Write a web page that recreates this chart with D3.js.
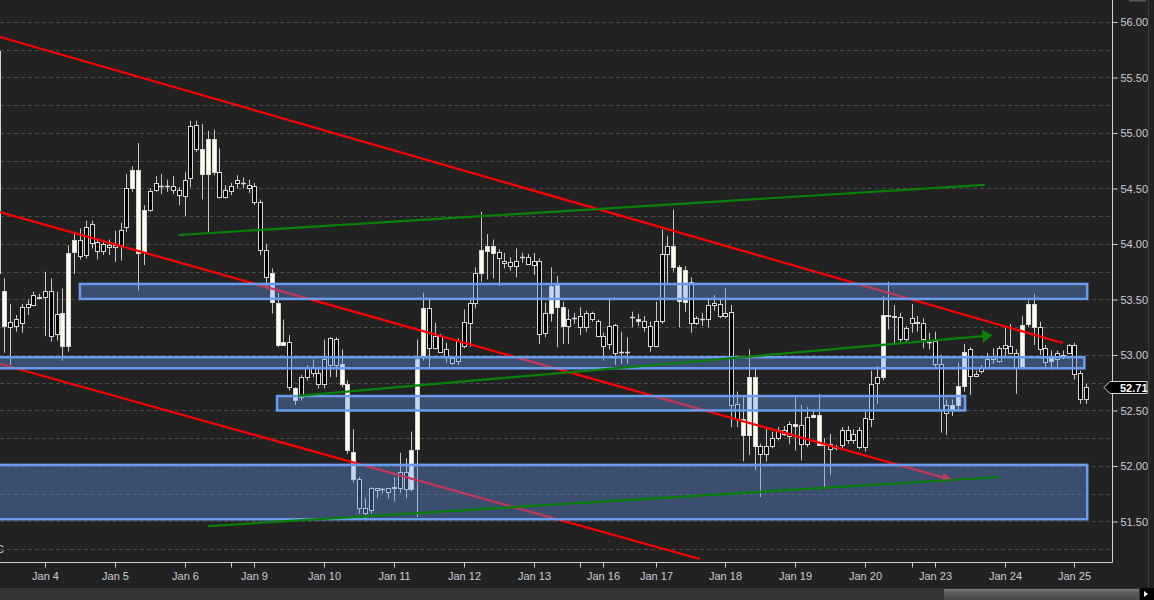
<!DOCTYPE html>
<html><head><meta charset="utf-8">
<script src="https://cdn.jsdelivr.net/npm/d3@7"></script>
<style>html,body{margin:0;padding:0;background:#222;overflow:hidden}</style>
</head><body><svg id="chart" width="1154" height="600"></svg>
<script>
// ---- DATA (2-hour candles, index -1 .. 186) ----
const firstIndex = -1;
const opens = [
55.74,53.58,53.25,53.26,53.29,53.43,53.45,53.52,53.52,53.17,
53.19,53.38,53.92,54.04,53.89,53.90,54.01,53.94,53.94,53.97,
53.97,53.99,54.15,54.67,54.67,54.31,54.31,54.49,54.52,54.52,
54.49,54.44,54.43,54.59,54.86,54.86,54.95,54.95,54.42,54.42,
54.48,54.55,54.55,54.50,54.38,53.95,53.70,53.74,53.47,53.12,
52.71,52.70,52.62,52.80,52.84,52.74,52.74,52.91,52.91,52.92,
52.74,52.13,51.62,51.58,51.60,51.78,51.79,51.77,51.80,51.80,
51.79,52.14,52.96,53.42,53.06,53.06,53.03,52.98,52.93,52.95,
53.08,53.29,53.47,53.95,53.98,53.98,53.87,53.83,53.80,53.80,
53.88,53.82,53.81,53.19,53.20,53.62,53.63,53.43,53.26,53.33,
53.25,53.25,53.32,53.17,53.08,53.10,53.02,53.03,53.03,53.34,
53.32,53.25,53.08,53.08,53.31,53.91,53.98,53.79,53.77,53.29,
53.29,53.32,53.32,53.45,53.35,53.35,52.55,52.42,52.42,52.80,
52.80,52.11,52.11,52.18,52.25,52.29,52.27,52.38,52.20,52.20,
52.46,52.46,52.20,52.15,52.16,52.19,52.23,52.23,52.17,52.17,
52.42,52.75,53.36,53.36,53.35,53.14,53.14,53.29,53.30,53.14,
53.12,52.92,52.50,52.48,52.55,52.72,53.03,52.81,52.81,52.86,
52.89,52.96,52.95,53.06,53.02,52.89,53.27,53.46,53.46,53.05,
52.94,52.97,52.96,52.99,53.02,52.83,52.60,52.60];
const highs = [
55.80,53.69,53.46,53.36,53.46,53.50,53.57,53.55,53.75,53.69,
53.57,53.60,53.99,54.11,54.14,54.21,54.21,54.05,54.02,54.04,
54.12,54.19,54.63,54.70,54.91,54.35,54.50,54.61,54.63,54.58,
54.61,54.51,54.65,55.11,55.11,55.08,55.02,55.03,54.86,54.53,
54.55,54.62,54.60,54.58,54.55,54.40,54.00,53.78,53.56,53.32,
53.18,52.71,52.82,52.91,52.96,52.88,53.14,53.16,53.16,53.05,
52.77,52.33,51.90,51.71,51.81,51.80,51.80,51.80,51.90,52.12,
52.07,52.31,53.14,53.56,53.50,53.29,53.19,53.11,52.99,53.15,
53.41,53.51,53.79,54.29,54.09,54.04,53.95,53.92,53.88,53.96,
53.92,53.91,53.92,53.87,53.47,53.79,53.71,53.48,53.41,53.38,
53.43,53.40,53.39,53.32,53.20,53.50,53.28,53.21,53.16,53.39,
53.37,53.35,53.30,53.48,54.13,54.07,54.31,53.81,53.80,53.70,
53.35,53.38,53.50,53.54,53.50,53.60,53.45,52.67,52.62,53.05,
52.88,52.20,52.35,52.31,52.35,52.36,52.40,52.62,52.55,52.53,
52.50,52.65,52.25,52.29,52.19,52.35,52.36,52.33,52.35,52.49,
52.86,52.90,53.53,53.66,53.45,53.38,53.26,53.46,53.35,53.33,
53.20,53.21,53.00,52.60,52.60,52.93,53.10,53.07,52.86,52.91,
53.02,53.06,53.08,53.25,53.28,53.05,53.35,53.49,53.55,53.30,
53.09,53.04,53.04,53.04,53.10,53.11,52.86,52.74];
const lows = [
53.70,53.02,52.91,53.21,53.20,53.36,53.44,53.50,53.17,53.12,
53.13,52.95,53.03,53.73,53.86,53.87,53.96,53.86,53.90,53.90,
53.84,53.85,54.11,54.47,53.58,53.81,54.29,54.47,54.45,54.47,
54.45,54.35,54.25,54.51,54.83,54.40,54.11,54.62,54.41,54.41,
54.44,54.50,54.50,54.46,54.35,53.90,53.60,53.375,53.07,53.08,
52.68,52.55,52.59,52.77,52.80,52.70,52.70,52.80,52.80,52.71,
52.11,51.85,51.57,51.51,51.57,51.71,51.75,51.71,51.68,51.76,
51.71,51.77,51.54,52.95,52.89,53.05,53.02,52.93,52.91,52.91,
53.06,53.07,53.42,53.66,53.68,53.69,53.62,53.78,53.76,53.70,
53.83,53.81,53.72,53.10,53.16,53.30,53.07,53.10,53.10,53.28,
53.18,53.21,53.30,53.16,52.95,53.05,52.91,52.92,52.92,53.25,
53.26,53.21,53.03,53.07,53.28,53.65,53.75,53.25,53.39,53.20,
53.27,53.26,53.25,53.40,53.33,53.33,52.35,52.35,52.04,52.10,
51.96,51.72,52.04,52.16,52.23,52.27,52.20,52.14,52.05,52.17,
52.43,52.18,51.80,51.92,52.14,52.15,52.20,52.20,52.15,52.13,
52.35,52.56,52.77,53.23,53.10,53.12,53.12,53.20,53.21,53.06,
53.05,52.89,52.30,52.28,52.45,52.50,52.67,52.64,52.80,52.83,
52.88,52.92,52.93,52.98,53.01,52.65,52.88,53.25,53.09,53.00,
52.87,52.87,52.87,52.96,53.01,52.78,52.56,52.56];
const closes = [
53.74,53.26,53.30,53.32,53.43,53.46,53.54,53.51,53.58,53.58,
53.37,53.08,53.08,53.93,54.04,54.15,54.18,54.02,54.00,53.99,
53.99,54.13,54.50,54.50,53.92,53.94,54.48,54.55,54.52,54.52,
54.52,54.49,54.58,55.06,55.07,54.63,54.63,54.65,54.65,54.49,
54.52,54.58,54.55,54.53,54.52,54.38,53.95,53.475,53.09,53.09,
53.12,52.59,52.80,52.88,52.89,52.84,52.96,53.15,53.14,52.74,
52.14,51.88,51.88,51.62,51.80,51.80,51.79,51.80,51.81,51.95,
51.95,51.79,52.15,52.98,53.42,53.17,53.17,53.05,52.97,53.13,
53.30,53.47,53.74,53.74,53.94,53.92,53.93,53.85,53.84,53.85,
53.88,53.88,53.85,53.85,53.38,53.38,53.43,53.26,53.32,53.33,
53.35,53.38,53.38,53.31,53.17,53.26,53.27,53.03,53.03,53.34,
53.31,53.31,53.26,53.31,53.91,53.98,53.79,53.49,53.48,53.66,
53.33,53.32,53.45,53.47,53.46,53.38,53.39,52.56,52.28,52.28,
52.18,52.18,52.18,52.25,52.32,52.32,52.38,52.36,52.37,52.44,
52.44,52.19,52.19,52.20,52.17,52.32,52.32,52.29,52.32,52.43,
52.74,52.80,52.80,53.35,53.34,53.34,53.24,53.33,53.29,53.29,
53.12,53.13,52.92,52.55,52.50,52.55,52.72,53.05,52.83,52.89,
52.96,52.98,53.06,53.09,53.08,53.02,52.89,53.28,53.25,53.25,
53.06,52.95,53.02,53.00,53.09,53.09,52.84,52.71];

const tickIndex  = [7,19,31,39,43,55,67,79,91,99,103,112,124,136,148,156,160,172,184];
const tickLabels = ["Jan 4","Jan 5","Jan 6","","Jan 9","Jan 10","Jan 11","Jan 12","Jan 13","",
                    "Jan 16","Jan 17","Jan 18","Jan 19","Jan 20","","Jan 23","Jan 24","Jan 25"];
const priceTicks = [51.5,52.0,52.5,53.0,53.5,54.0,54.5,55.0,55.5,56.0];
const gridPrices = [51.25,51.5,51.75,52.0,52.25,52.5,52.75,53.0,53.25,53.5,53.75,54.0,54.25,54.5,54.75,55.0,55.25,55.5,55.75,56.0];
const lastPrice = 52.71;

// zones (index from/to, price low/high)
const zoneFrom = [13.0, -3, 46.9, -3];
const zoneTo   = [186.2, 185.7, 165.2, 186.2];
const zoneLow  = [53.505, 52.88, 52.50, 51.52];
const zoneHigh = [53.64, 52.98, 52.63, 52.01];

// trend lines (index, price) start/end
const redFrom  = [[-0.74,55.865],[-0.74,54.288],[-0.74,52.919]];
const redTo    = [[182.0,53.108],[162.95,51.874],[119.6,51.162]];
const redArrow = [false,true,false];
const greenFrom  = [[30.0,54.081],[50.5,52.631],[35.0,51.459]];
const greenTo    = [[168.6,54.532],[169.7,53.176],[171.2,51.901]];
const greenArrow = [false,true,false];

// ---- CHART ----
const W = 1154, H = 600, plotW = 1112, plotH = 562;
const svg = d3.select("#chart");
const x = d3.scaleLinear().domain([-0.74, 190.46]).range([0, plotW]);
const y = d3.scaleLinear().domain([51.135, 56.198]).range([plotH, 0]);

svg.append("rect").attr("width", W).attr("height", H).attr("fill", "#222222");

const defs = svg.append("defs");
defs.append("clipPath").attr("id","plotclip").append("rect").attr("x",0).attr("y",0).attr("width",plotW).attr("height",plotH);
defs.append("marker").attr("id","arrRed").attr("viewBox","0 0 11 9").attr("refX",10).attr("refY",4.5)
  .attr("markerWidth",11).attr("markerHeight",9).attr("markerUnits","userSpaceOnUse").attr("orient","auto")
  .append("path").attr("d","M0,0 L11,4.5 L0,9 z").attr("fill","#ff0000");
defs.append("marker").attr("id","arrGreen").attr("viewBox","0 0 10 14").attr("refX",9).attr("refY",7)
  .attr("markerWidth",10).attr("markerHeight",14).attr("markerUnits","userSpaceOnUse").attr("orient","auto")
  .append("path").attr("d","M0,0 L10,7 L0,14 z").attr("fill","#0a800a");

const plot = svg.append("g").attr("clip-path","url(#plotclip)");

// grid
plot.append("g").selectAll("line").data(gridPrices).join("line")
  .attr("x1",0).attr("x2",plotW)
  .attr("y1",d=>Math.round(y(d))+0.5).attr("y2",d=>Math.round(y(d))+0.5)
  .attr("stroke","#4a4a4a").attr("stroke-width",1).attr("stroke-dasharray","4,3");

// candles
const candles = opens.map((o,k)=>({i:firstIndex+k,o,h:highs[k],l:lows[k],c:closes[k]}));
const cg = plot.append("g");
candles.forEach(d=>{
  const cx = Math.round(x(d.i));
  cg.append("line").attr("x1",cx+0.5).attr("x2",cx+0.5)
    .attr("y1",y(d.h)).attr("y2",y(d.l)).attr("stroke","#c8c8c8").attr("stroke-width",1);
  const yo = y(d.o), yc = y(d.c);
  const top = Math.round(Math.min(yo,yc))+0.5, bot = Math.round(Math.max(yo,yc))+0.5;
  if (bot - top < 1) {
    cg.append("line").attr("x1",cx-2).attr("x2",cx+3).attr("y1",top).attr("y2",top)
      .attr("stroke","#d8d8d8").attr("stroke-width",1.5);
  } else {
    cg.append("rect").attr("x",cx-1.5).attr("width",4).attr("y",top).attr("height",bot-top)
      .attr("fill", d.c < d.o ? "#fffff0" : "#000000")
      .attr("stroke","#d6d6d6").attr("stroke-width",1);
  }
});

// red lines (below zones)
const lg = plot.append("g");
redFrom.forEach((f,k)=>{
  const ln = lg.append("line").attr("x1",x(f[0])).attr("y1",y(f[1]))
    .attr("x2",x(redTo[k][0])).attr("y2",y(redTo[k][1]))
    .attr("stroke","#ff0000").attr("stroke-width",2.2);
  if (redArrow[k]) ln.attr("marker-end","url(#arrRed)");
});

// zones
plot.append("g").selectAll("rect").data(zoneFrom).join("rect")
  .attr("x",(d)=>x(d)).attr("width",(d,k)=>x(zoneTo[k])-x(d))
  .attr("y",(d,k)=>y(zoneHigh[k])).attr("height",(d,k)=>y(zoneLow[k])-y(zoneHigh[k]))
  .attr("fill","rgba(100,149,237,0.38)").attr("stroke","#6b9cec").attr("stroke-width",2.5);

// green lines (on top)
greenFrom.forEach((f,k)=>{
  const ln = plot.append("line").attr("x1",x(f[0])).attr("y1",y(f[1]))
    .attr("x2",x(greenTo[k][0])).attr("y2",y(greenTo[k][1]))
    .attr("stroke","#0a800a").attr("stroke-width",2.2);
  if (greenArrow[k]) ln.attr("marker-end","url(#arrGreen)");
});

// cut-off text at bottom-left
svg.append("text").attr("x",-4).attr("y",553).attr("fill","#c8c8c8")
  .style("font-family","'Liberation Sans', Arial, sans-serif").style("font-size","11px").text("C");

// axes
const font = "'Liberation Sans', Arial, sans-serif";
const yAxis = svg.append("g").attr("transform",`translate(${plotW+0.5},0)`)
  .call(d3.axisRight(y).tickValues(priceTicks).tickFormat(d3.format(".2f")).tickSize(5).tickSizeOuter(0));
yAxis.select(".domain").attr("stroke","#d0d0d0").attr("d",`M0,0V${plotH+0.5}`);
yAxis.selectAll(".tick line").attr("stroke","#d0d0d0");
yAxis.selectAll(".tick text").attr("fill","#c8ccd6").attr("x",8).style("font-family",font).style("font-size","11px");

const xAxis = svg.append("g").attr("transform",`translate(0,${plotH+0.5})`)
  .call(d3.axisBottom(x).tickValues(tickIndex).tickFormat((d,k)=>tickLabels[k]).tickSize(5).tickSizeOuter(0));
xAxis.select(".domain").attr("stroke","#d0d0d0").attr("d",`M0,0H${plotW+0.5}`);
xAxis.selectAll(".tick line").attr("stroke","#d0d0d0").attr("transform",function(){return null;});
xAxis.selectAll(".tick").attr("transform",d=>`translate(${Math.round(x(d))+0.5},0)`);
xAxis.selectAll(".tick text").attr("fill","#c8ccd6").attr("y",10).style("font-family",font).style("font-size","11px");

// right edge panel
svg.append("line").attr("x1",1148.5).attr("x2",1148.5).attr("y1",0).attr("y2",588).attr("stroke","#3a3a3a");
svg.append("rect").attr("x",1129).attr("y",0).attr("width",17).attr("height",1.5).attr("fill","#5a5a5a");

// last price marker
const py = Math.round(y(lastPrice))+0.5;
svg.append("path").attr("d",`M1104,${py} L1110,${py-6} L1147,${py-6} L1147,${py+6} L1110,${py+6} Z`)
  .attr("fill","#000").attr("stroke","#d8d8d8").attr("stroke-width",1);
svg.append("text").attr("x",1120).attr("y",py+4).attr("fill","#ffffff")
  .style("font-family",font).style("font-size","11px").style("font-weight","bold").text(d3.format(".2f")(lastPrice));

// bottom scroll strip
svg.append("rect").attr("x",0).attr("y",588).attr("width",W).attr("height",12).attr("fill","#343434");
const grad = defs.append("linearGradient").attr("id","thumb").attr("x1",0).attr("y1",0).attr("x2",0).attr("y2",1);
grad.append("stop").attr("offset","0").attr("stop-color","#7a7a7a");
grad.append("stop").attr("offset","0.4").attr("stop-color","#5a5a5a");
grad.append("stop").attr("offset","1").attr("stop-color","#4a4a4a");
svg.append("rect").attr("x",944).attr("y",589).attr("width",195).attr("height",11).attr("fill","url(#thumb)");
svg.append("rect").attr("x",1140).attr("y",588).attr("width",14).attr("height",12).attr("fill","#000");
svg.append("path").attr("d","M1144,591 L1148,594 L1144,597 Z").attr("fill","#fff");
</script></body></html>
